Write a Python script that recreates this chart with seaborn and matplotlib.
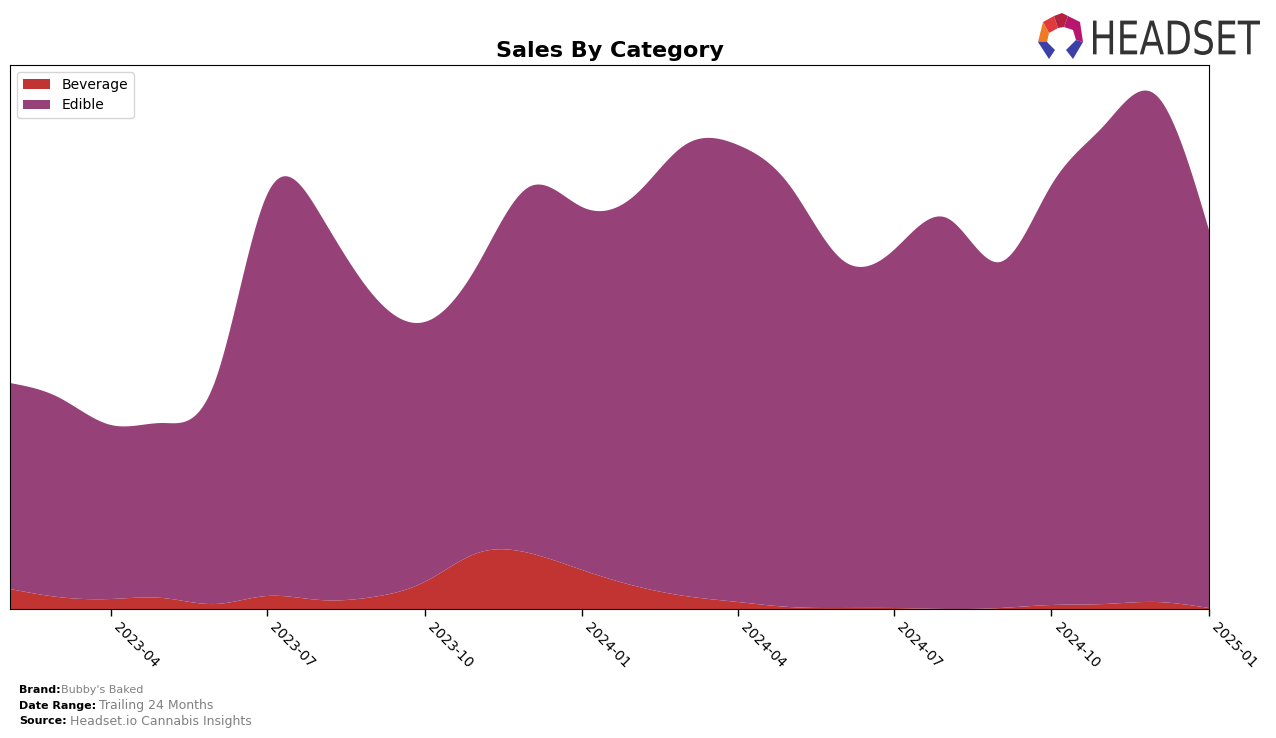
import numpy as np
import pandas as pd
import matplotlib
matplotlib.use("Agg")
import matplotlib.pyplot as plt
import matplotlib.dates as mdates
from matplotlib.patches import Polygon, PathPatch
from matplotlib.textpath import TextPath
from matplotlib.font_manager import FontProperties
from matplotlib.transforms import Affine2D, IdentityTransform
import seaborn as sns

# ---- data (monthly; arbitrary units) ----
months = pd.date_range("2023-02-01", "2025-01-01", freq="MS")
beverage = [20, 12, 10, 11, 5, 13, 9, 12, 27, 56, 56, 39,
            23, 13, 7, 2, 1, 1, 0, 1, 4, 5, 7, 1]
edible = [206, 200, 174, 175, 224, 401, 386, 302, 260, 288, 366, 363,
          391, 451, 457, 422, 348, 358, 391, 346, 420, 479, 507, 378]
categories = ["Beverage", "Edible"]
colors = ["#c13432", "#964278"]


def natural_spline(x, y, xs):
    x = np.asarray(x, float); y = np.asarray(y, float)
    n = len(x)
    h = np.diff(x)
    A = np.zeros((n, n)); r = np.zeros(n)
    A[0, 0] = A[-1, -1] = 1
    for i in range(1, n - 1):
        A[i, i - 1] = h[i - 1]
        A[i, i] = 2 * (h[i - 1] + h[i])
        A[i, i + 1] = h[i]
        r[i] = 3 * ((y[i + 1] - y[i]) / h[i] - (y[i] - y[i - 1]) / h[i - 1])
    c = np.linalg.solve(A, r)
    b = np.zeros(n - 1); d = np.zeros(n - 1)
    for i in range(n - 1):
        b[i] = (y[i + 1] - y[i]) / h[i] - h[i] * (2 * c[i] + c[i + 1]) / 3
        d[i] = (c[i + 1] - c[i]) / (3 * h[i])
    idx = np.clip(np.searchsorted(x, xs) - 1, 0, n - 2)
    dx = xs - x[idx]
    return y[idx] + b[idx] * dx + c[idx] * dx ** 2 + d[idx] * dx ** 3


sns.set_theme(style="white")
plt.rcParams['font.family'] = ['DejaVu Sans']
plt.rcParams['text.color'] = 'black'
plt.rcParams['axes.labelcolor'] = 'black'
plt.rcParams['xtick.color'] = 'black'

fig = plt.figure(figsize=(12.76, 7.38), dpi=100)
ax = fig.add_axes([10 / 1276, 129 / 738, 1199 / 1276, 544 / 738])

xnum = mdates.date2num(months)
xs = np.linspace(xnum[0], xnum[-1], 800)
bev_s = np.clip(natural_spline(xnum, beverage, xs), 0, None)
edi_s = np.clip(natural_spline(xnum, edible, xs), 0, None)

ax.stackplot(mdates.num2date(xs), bev_s, edi_s, labels=categories, colors=colors,
             edgecolor="none", linewidth=0)

ax.set_xlim(months[0], months[-1])
ax.set_ylim(0, 544)
ax.set_yticks([])
ax.xaxis.set_major_locator(mdates.MonthLocator(bymonth=[1, 4, 7, 10]))
ax.xaxis.set_major_formatter(mdates.DateFormatter("%Y-%m"))
ax.tick_params(axis="x", which="major", length=5, width=1, color="black",
               labelcolor="black", labelsize=10, bottom=True, pad=3)
for lbl in ax.get_xticklabels():
    lbl.set_rotation(-45)
    lbl.set_ha("left")
for s in ax.spines.values():
    s.set_visible(True)
    s.set_color("black")
    s.set_linewidth(0.8)

ax.set_title("Sales By Category", fontsize=16, fontweight="bold", pad=6, color="black")
leg = ax.legend(loc="upper left", fontsize=10, frameon=True, fancybox=True,
                borderaxespad=0.5, handlelength=2, handleheight=0.7)
leg.get_frame().set_edgecolor("#cccccc")
for t in leg.get_texts():
    t.set_color("black")

# ---- footer ----
fig.canvas.draw()
renderer = fig.canvas.get_renderer()
footer = [("Brand:", "Bubby's Baked", 690, 8, 0),
          ("Date Range:", "Trailing 24 Months", 706, 9, 3),
          ("Source:", "Headset.io Cannabis Insights", 721, 9, 3)]
for lab, val, ypix, vs, gap in footer:
    t = fig.text(19 / 1276, 1 - ypix / 738, lab, fontsize=8, fontweight="bold",
                 va="center", ha="left", color="black")
    bb = t.get_window_extent(renderer)
    fig.text((bb.x1 + gap) / 1276, 1 - ypix / 738, val, fontsize=vs,
             va="center", ha="left", color="#808080")

# ---- logo ----
H = 738
pts = {
    "tl": [(1043, 22), (1054, 16), (1058, 28), (1049, 33)],
    "top": [(1054, 16), (1062, 13), (1068, 16), (1064, 27), (1058, 28)],
    "tr": [(1068, 16), (1080, 22), (1083, 42), (1076, 40), (1073, 30), (1064, 27)],
    "l": [(1043, 22), (1049, 33), (1047, 42), (1038, 42)],
    "bl": [(1038, 42), (1047, 42), (1055, 50), (1049, 59)],
    "br": [(1083, 42), (1076, 40), (1066, 50), (1073, 59)],
}
cols = {"tl": "#e03a3a", "top": "#b3213e", "tr": "#b8166e", "l": "#f07a22",
        "bl": "#3b3fa8", "br": "#3b3fa8"}
for k, p in pts.items():
    fig.patches.append(Polygon([(x / 1276, 1 - y / H) for x, y in p], closed=True,
                               transform=fig.transFigure, facecolor=cols[k],
                               edgecolor="none"))
tp = TextPath((0, 0), "HEADSET", size=100, prop=FontProperties(family="DejaVu Sans"))
ext = tp.get_extents()
x0, x1, ytop, ybot = 1093, 1260, 20, 55
sx = (x1 - x0) / ext.width
sy = (ybot - ytop) / ext.height
tr = Affine2D().translate(-ext.x0, -ext.y0).scale(sx, sy).translate(x0, H - ybot)
tp2 = tr.transform_path(tp)
fig.patches.append(PathPatch(tp2, transform=IdentityTransform(), facecolor="#333333",
                             edgecolor="none"))

fig.savefig("out.png", dpi=100)
